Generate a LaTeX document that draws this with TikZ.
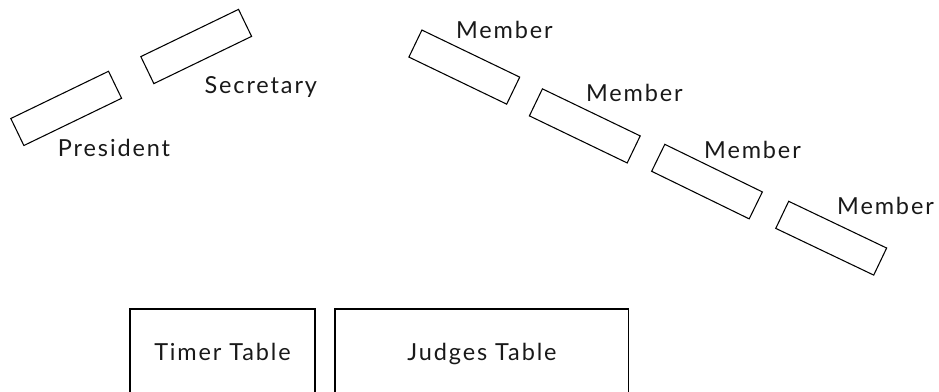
\documentclass[tikz,border=0pt]{standalone}
\usepackage{fontspec}
\setmainfont{Lato}[LetterSpace=8]
\begin{document}
\begin{tikzpicture}[x=0.75pt,y=-0.75pt,
  seat/.style={draw=black, line width=0.8pt, minimum width=81.4pt, minimum height=22.5pt, inner sep=0pt},
  tablebox/.style={draw=black, line width=0.8pt},
  lbl/.style={anchor=base, inner sep=0pt, font=\fontsize{17.6}{20}\selectfont, text=black!90}]
  \useasboundingbox (0,0) rectangle (939,392);
  \clip (0,0) rectangle (939,392);

  % officer seats
  \node[seat, rotate=25.8] (pres) at (66.2,108.4) {};
  \node[seat, rotate=25.8] (sec) at (196.2,46.5) {};
  \node[lbl] (presl) at (114,157) {President};
  \node[lbl] (secl) at (260.8,94) {Secretary};

  % member seats
  \node[seat, rotate=-25.7] (m1) at (464.3,67.1) {};
  \node[seat, rotate=-25.7] (m2) at (584.8,125.9) {};
  \node[seat, rotate=-26] (m3) at (707,181.6) {};
  \node[seat, rotate=-25.5] (m4) at (831.2,238.2) {};
  \node[lbl] (m1l) at (504.3,38.3) {Member};
  \node[lbl] (m2l) at (634.3,101.7) {Member};
  \node[lbl] (m3l) at (752.5,158.3) {Member};
  \node[lbl] (m4l) at (885.5,214.3) {Member};

  % tables running off the bottom edge
  \draw[tablebox] (130,400) -- (130,309) -- (315,309) -- (315,400);
  \draw[tablebox] (335,400) -- (335,309) -- (628.3,309) -- (628.3,400);
  \node[lbl] (timer) at (222.5,360.7) {Timer Table};
  \node[lbl] (judges) at (482,360.7) {Judges Table};
\end{tikzpicture}
\end{document}
